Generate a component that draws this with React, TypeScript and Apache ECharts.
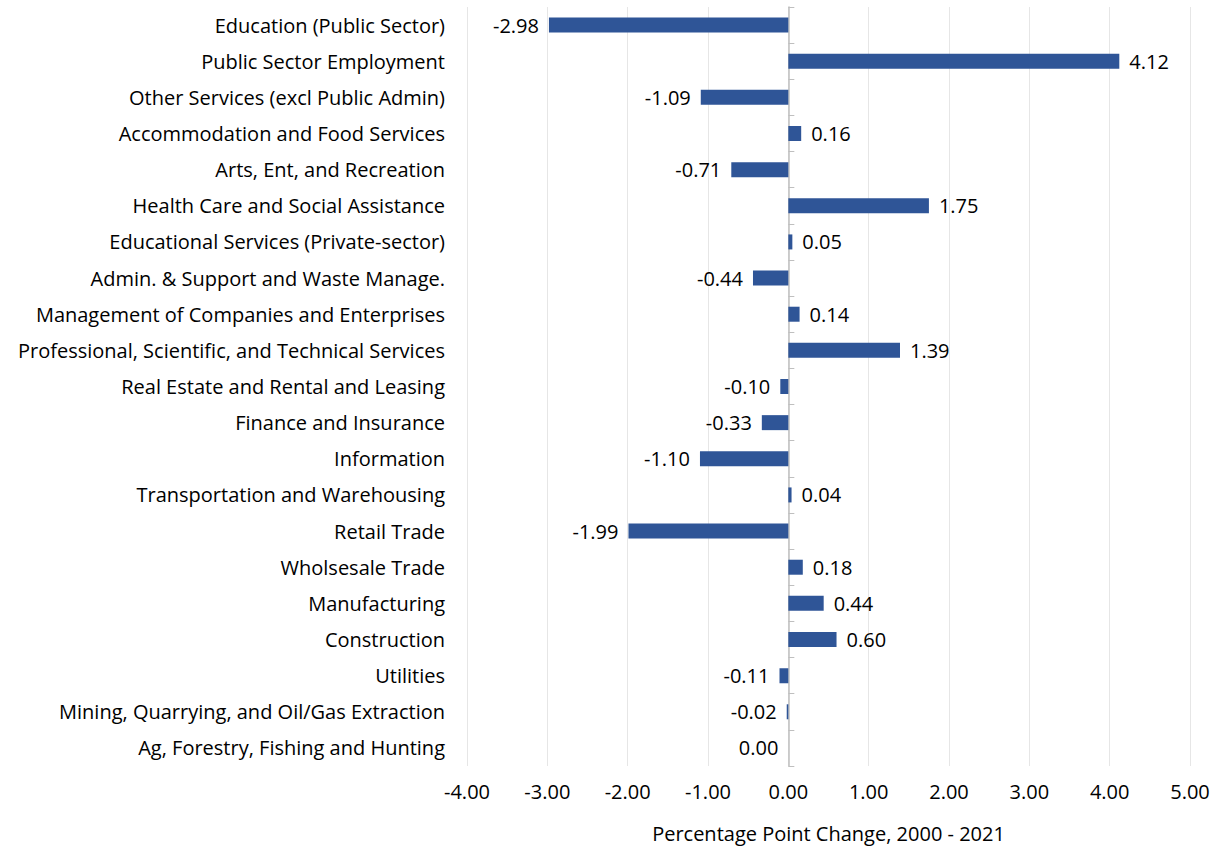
import React, { useEffect, useRef } from "react";
import * as echarts from "echarts";

const categories = [
  "Education (Public Sector)",
  "Public Sector Employment",
  "Other Services (excl Public Admin)",
  "Accommodation and Food Services",
  "Arts, Ent, and Recreation",
  "Health Care and Social Assistance",
  "Educational Services (Private-sector)",
  "Admin. & Support and Waste Manage.",
  "Management of Companies and Enterprises",
  "Professional, Scientific, and Technical Services",
  "Real Estate and Rental and Leasing",
  "Finance and Insurance",
  "Information",
  "Transportation and Warehousing",
  "Retail Trade",
  "Wholsesale Trade",
  "Manufacturing",
  "Construction",
  "Utilities",
  "Mining, Quarrying, and Oil/Gas Extraction",
  "Ag, Forestry, Fishing and Hunting",
];

const values = [
  -2.98, 4.12, -1.09, 0.16, -0.71, 1.75, 0.05, -0.44, 0.14, 1.39, -0.1, -0.33,
  -1.1, 0.04, -1.99, 0.18, 0.44, 0.6, -0.11, -0.02, 0.0,
];

const xTicks = { min: -4, max: 5, interval: 1 };
const axisTitle = "Percentage Point Change, 2000 - 2021";

const FONT = "Open Sans";
const FS = 20;

export default function App() {
  const ref = useRef<HTMLDivElement>(null);
  useEffect(() => {
    document.body.style.margin = "0";
    const chart = echarts.init(ref.current!, null, { renderer: "svg" });
    const cats = [...categories].reverse();
    const vals = [...values].reverse();
    chart.setOption({
      animation: false,
      textStyle: { fontFamily: FONT },
      grid: { left: 467, right: 33, top: 7, bottom: 83, containLabel: false },
      xAxis: {
        type: "value",
        min: xTicks.min,
        max: xTicks.max,
        interval: xTicks.interval,
        name: axisTitle,
        nameLocation: "middle",
        nameGap: 57,
        nameTextStyle: { fontSize: FS, color: "#000", fontFamily: FONT },
        axisLabel: {
          formatter: (v: number) => v.toFixed(2),
          fontSize: FS,
          color: "#000",
          margin: 15,
          fontFamily: FONT,
        },
        axisLine: { show: false },
        axisTick: { show: false },
        splitLine: { show: true, lineStyle: { color: "#e6e6e6", width: 1 } },
      },
      yAxis: [
        {
          type: "category",
          data: cats,
          position: "left",
          axisLine: { show: false, onZero: false },
          axisTick: { show: false },
          axisLabel: { fontSize: FS, color: "#000", margin: 22, fontFamily: FONT, padding: [0, 0, 2, 0] },
        },
        {
          type: "category",
          data: cats,
          axisLine: { show: true, onZero: true, lineStyle: { color: "#bfbfbf", width: 1.5 } },
          axisTick: { show: true, inside: false, length: 6, lineStyle: { color: "#bfbfbf" } },
          axisLabel: { show: false },
        },
      ],
      series: [
        {
          type: "bar",
          yAxisIndex: 0,
          data: vals.map((v) => ({
            value: v,
            label: { position: v > 0 ? "right" : "left" },
          })),
          barWidth: 15,
          itemStyle: { color: "#2f5597" },
          label: {
            show: true,
            formatter: (p: any) => Number(p.value).toFixed(2),
            fontSize: FS,
            color: "#000",
            distance: 10,
            fontFamily: FONT,
          },
        },
      ],
    });
    return () => chart.dispose();
  }, []);
  return <div ref={ref} style={{ width: 1223, height: 849 }} />;
}
